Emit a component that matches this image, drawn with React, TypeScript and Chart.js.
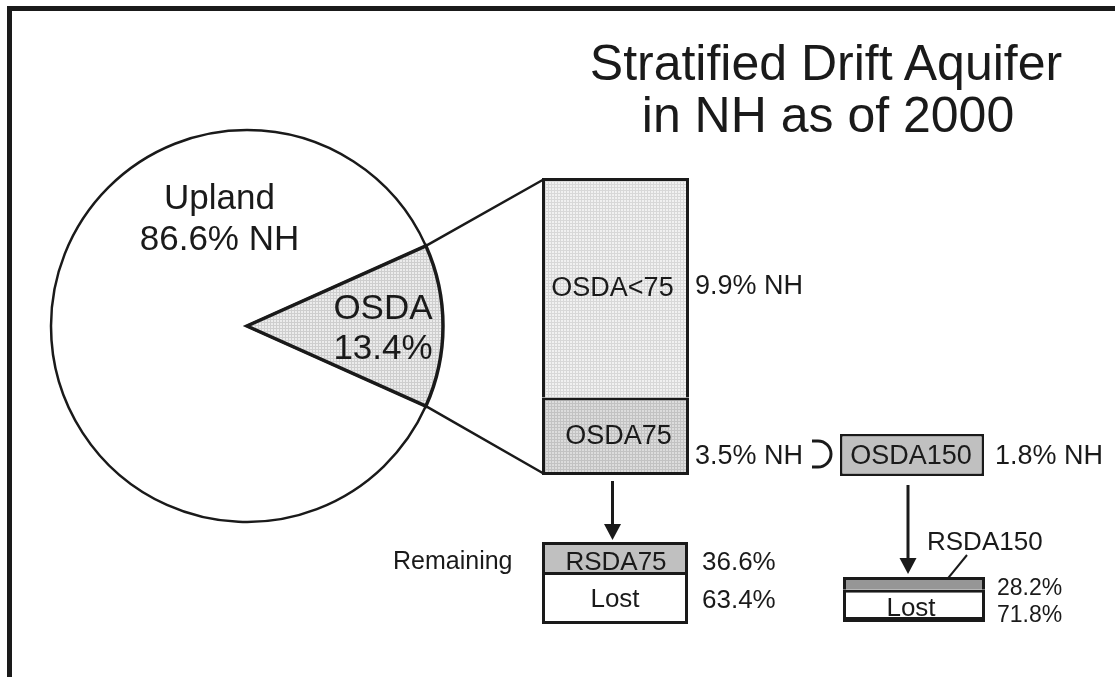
import React, { useEffect, useRef } from "react";
import { Chart, registerables } from "chart.js";

Chart.register(...registerables);

// ---------- data ----------
const pieLabels = ["Upland", "OSDA"];
const pieValues = [86.6, 13.4];

const osdaLabels = ["OSDA75", "OSDA<75"]; // bottom, top
const osdaValues = [3.5, 9.9];

const osda150Labels = ["OSDA150"];
const osda150Values = [1.8];

const rsda75Labels = ["Lost", "RSDA75"]; // bottom, top
const rsda75Values = [63.4, 36.6];

const rsda150Labels = ["Lost", "RSDA150"]; // bottom, top
const rsda150Values = [71.8, 28.2];

const titleLines = ["Stratified Drift Aquifer", "in NH as of 2000"];

// ---------- layout ----------
const FONT = '"Liberation Sans", Arial, Helvetica, sans-serif';
const INK = "#1a1a1a";
const PIE_BOX = { left: 27, top: 106, width: 440, height: 440 };
const PIE_RADIUS = 196;
const OSDA_BOX = { left: 542, top: 178, width: 147, height: 297 };
const OSDA150_BOX = { left: 840, top: 434, width: 144, height: 42 };
const RSDA75_BOX = { left: 542, top: 542, width: 146, height: 82 };
const RSDA150_BOX = { left: 843, top: 577, width: 142, height: 45 };

const sum = (a: number[]) => a.reduce((s, v) => s + v, 0);
const pct = (v: number) => `${v.toFixed(1)}%`;

function makePattern(base: string, line: string): CanvasPattern | string {
  const c = document.createElement("canvas");
  c.width = 3;
  c.height = 3;
  const g = c.getContext("2d");
  if (!g) return base;
  g.fillStyle = base;
  g.fillRect(0, 0, 3, 3);
  g.fillStyle = line;
  g.fillRect(0, 0, 3, 1);
  g.fillRect(0, 0, 1, 3);
  return g.createPattern(c, "repeat") || base;
}

function stackedBar(
  canvas: HTMLCanvasElement,
  labels: string[],
  values: number[],
  colors: any[],
  borders: any[]
) {
  return new Chart(canvas, {
    type: "bar",
    data: {
      labels: [""],
      datasets: values.map((v, i) => ({
        label: labels[i],
        data: [v],
        backgroundColor: colors[i],
        borderColor: INK,
        borderWidth: borders[i],
        borderSkipped: false,
        barPercentage: 1,
        categoryPercentage: 1,
        inflateAmount: 0,
      })),
    } as any,
    options: {
      responsive: false,
      animation: false,
      events: [],
      devicePixelRatio: 1,
      layout: { padding: 0 },
      plugins: { legend: { display: false }, tooltip: { enabled: false } },
      scales: {
        x: { display: false, stacked: true },
        y: { display: false, stacked: true, min: 0, max: sum(values) },
      },
    } as any,
  });
}

function Label(props: { text: string; x: number; y: number; size: number; center?: boolean }) {
  const { text, x, y, size, center } = props;
  const style: React.CSSProperties = {
    position: "absolute",
    top: y - 0.8465 * size,
    fontSize: size,
    lineHeight: `${size}px`,
    fontFamily: FONT,
    color: INK,
    whiteSpace: "nowrap",
  };
  if (center) {
    style.left = x - 300;
    style.width = 600;
    style.textAlign = "center";
  } else {
    style.left = x;
  }
  return <div style={style}>{text}</div>;
}

function boxStyle(b: { left: number; top: number; width: number; height: number }): React.CSSProperties {
  return { position: "absolute", left: b.left, top: b.top, width: b.width, height: b.height };
}

export default function App() {
  const pieRef = useRef<HTMLCanvasElement>(null);
  const osdaRef = useRef<HTMLCanvasElement>(null);
  const o150Ref = useRef<HTMLCanvasElement>(null);
  const r75Ref = useRef<HTMLCanvasElement>(null);
  const r150Ref = useRef<HTMLCanvasElement>(null);
  const overlayRef = useRef<HTMLCanvasElement>(null);

  useEffect(() => {
    const charts: Chart[] = [];
    const total = sum(pieValues);
    const before = pieValues[0];
    const rotation = 90 - ((before + pieValues[1] / 2) / total) * 360;

    const pie = new Chart(pieRef.current!, {
      type: "pie",
      data: {
        labels: pieLabels,
        datasets: [
          {
            data: pieValues,
            backgroundColor: ["#ffffff", makePattern("#ececec", "#cecece")],
            borderColor: INK,
            borderWidth: [2.5, 3.5],
            borderJoinStyle: ["bevel", "miter"],
          },
        ],
      } as any,
      options: {
        responsive: false,
        animation: false,
        events: [],
        devicePixelRatio: 1,
        rotation,
        radius: PIE_RADIUS,
        layout: { padding: 0 },
        plugins: { legend: { display: false }, tooltip: { enabled: false } },
      } as any,
    });
    charts.push(pie);

    const osda = stackedBar(
      osdaRef.current!,
      osdaLabels,
      osdaValues,
      [makePattern("#dcdcdc", "#c2c2c2"), makePattern("#f1f1f1", "#d8d8d8")],
      [
        { top: 3, left: 3, right: 3, bottom: 3 },
        { top: 3, left: 3, right: 3, bottom: 0 },
      ]
    );
    charts.push(osda);

    const o150 = stackedBar(o150Ref.current!, osda150Labels, osda150Values, ["#c0c0c0"], [2.5]);
    charts.push(o150);

    const r75 = stackedBar(
      r75Ref.current!,
      rsda75Labels,
      rsda75Values,
      ["#ffffff", "#c0c0c0"],
      [
        { top: 3, left: 3, right: 3, bottom: 3 },
        { top: 3, left: 3, right: 3, bottom: 0 },
      ]
    );
    charts.push(r75);

    const r150 = stackedBar(
      r150Ref.current!,
      rsda150Labels,
      rsda150Values,
      ["#ffffff", "#969696"],
      [
        { top: 3, left: 3, right: 3, bottom: 5 },
        { top: 3, left: 3, right: 3, bottom: 0 },
      ]
    );
    charts.push(r150);

    // overlay: connectors, arrows, bracket
    const ov = overlayRef.current!;
    const ctx = ov.getContext("2d")!;
    ctx.clearRect(0, 0, ov.width, ov.height);
    ctx.strokeStyle = INK;
    ctx.fillStyle = INK;
    ctx.lineCap = "butt";

    const arc: any = pie.getDatasetMeta(0).data[1];
    const ap = arc.getProps(["x", "y", "startAngle", "endAngle", "outerRadius"], true);
    const cx = PIE_BOX.left + ap.x;
    const cy = PIE_BOX.top + ap.y;
    const up = [cx + ap.outerRadius * Math.cos(ap.startAngle), cy + ap.outerRadius * Math.sin(ap.startAngle)];
    const lo = [cx + ap.outerRadius * Math.cos(ap.endAngle), cy + ap.outerRadius * Math.sin(ap.endAngle)];

    const topSeg: any = osda.getDatasetMeta(1).data[0];
    const botSeg: any = osda.getDatasetMeta(0).data[0];
    const tp = topSeg.getProps(["x", "y", "width", "base"], true);
    const bp = botSeg.getProps(["x", "y", "width", "base"], true);
    const barLeft = OSDA_BOX.left + tp.x - tp.width / 2;
    const barTop = OSDA_BOX.top + tp.y;
    const barBottom = OSDA_BOX.top + bp.base;
    const barCenter = OSDA_BOX.left + tp.x;

    ctx.lineWidth = 2.5;
    ctx.beginPath();
    ctx.moveTo(up[0], up[1]);
    ctx.lineTo(barLeft + 1.5, barTop + 1.5);
    ctx.moveTo(lo[0], lo[1]);
    ctx.lineTo(barLeft + 1.5, barBottom - 1.5);
    ctx.stroke();

    const arrow = (x: number, y1: number, y2: number) => {
      const headLen = 16;
      const half = 8.5;
      ctx.lineWidth = 3;
      ctx.beginPath();
      ctx.moveTo(x, y1);
      ctx.lineTo(x, y2 - headLen + 1);
      ctx.stroke();
      ctx.beginPath();
      ctx.moveTo(x - half, y2 - headLen);
      ctx.lineTo(x + half, y2 - headLen);
      ctx.lineTo(x, y2);
      ctx.closePath();
      ctx.fill();
    };

    // arrow OSDA75 -> RSDA75
    const r75Top: any = r75.getDatasetMeta(1).data[0];
    const r75p = r75Top.getProps(["x", "y"], true);
    arrow(barCenter - 3, barBottom + 6, RSDA75_BOX.top + r75p.y - 2);

    // arrow OSDA150 -> RSDA150
    const o150el: any = o150.getDatasetMeta(0).data[0];
    const o150p = o150el.getProps(["x", "y", "base"], true);
    const r150Top: any = r150.getDatasetMeta(1).data[0];
    const r150p = r150Top.getProps(["x", "y", "base"], true);
    arrow(OSDA150_BOX.left + o150p.x - 4, OSDA150_BOX.top + o150p.base + 9, RSDA150_BOX.top + r150p.y - 3);

    // RSDA150 leader line
    ctx.lineWidth = 2;
    ctx.beginPath();
    ctx.moveTo(967, 555);
    ctx.lineTo(943, RSDA150_BOX.top + (r150p.y + r150p.base) / 2 + 1);
    ctx.stroke();

    // bracket between 3.5% NH and OSDA150
    ctx.lineWidth = 3;
    ctx.beginPath();
    ctx.moveTo(812, 441);
    ctx.lineTo(818, 441);
    ctx.arc(818, 454, 13, -Math.PI / 2, Math.PI / 2);
    ctx.lineTo(812, 467);
    ctx.stroke();

    return () => {
      charts.forEach((c) => c.destroy());
    };
  }, []);

  return (
    <div
      style={{
        position: "fixed",
        left: 0,
        top: 0,
        width: 1115,
        height: 677,
        background: "#ffffff",
        overflow: "hidden",
      }}
    >
      {/* frame */}
      <div
        style={{
          position: "absolute",
          left: 7,
          top: 6,
          width: 1200,
          height: 800,
          borderLeft: `5px solid ${INK}`,
          borderTop: `5px solid ${INK}`,
        }}
      />
      <canvas ref={overlayRef} width={1115} height={677} style={{ position: "absolute", left: 0, top: 0 }} />
      <canvas ref={pieRef} width={PIE_BOX.width} height={PIE_BOX.height} style={boxStyle(PIE_BOX)} />
      <canvas ref={osdaRef} width={OSDA_BOX.width} height={OSDA_BOX.height} style={boxStyle(OSDA_BOX)} />
      <canvas ref={o150Ref} width={OSDA150_BOX.width} height={OSDA150_BOX.height} style={boxStyle(OSDA150_BOX)} />
      <canvas ref={r75Ref} width={RSDA75_BOX.width} height={RSDA75_BOX.height} style={boxStyle(RSDA75_BOX)} />
      <canvas ref={r150Ref} width={RSDA150_BOX.width} height={RSDA150_BOX.height} style={boxStyle(RSDA150_BOX)} />

      {/* title */}
      <Label text={titleLines[0]} x={826} y={80} size={50} center />
      <Label text={titleLines[1]} x={828} y={132} size={50} center />

      {/* pie labels */}
      <Label text={pieLabels[0]} x={219.5} y={209} size={35} center />
      <Label text={`${pct(pieValues[0])} NH`} x={219.5} y={250} size={35} center />
      <Label text={pieLabels[1]} x={383} y={319} size={35} center />
      <Label text={pct(pieValues[1])} x={383} y={359} size={35} center />

      {/* OSDA bar */}
      <Label text={osdaLabels[1]} x={612.5} y={297} size={27} center />
      <Label text={`${pct(osdaValues[1])} NH`} x={695} y={295} size={27} />
      <Label text={osdaLabels[0]} x={618.5} y={445} size={27} center />
      <Label text={`${pct(osdaValues[0])} NH`} x={695} y={465} size={27} />

      {/* OSDA150 */}
      <Label text={osda150Labels[0]} x={911} y={465} size={27} center />
      <Label text={`${pct(osda150Values[0])} NH`} x={995} y={465} size={27} />

      {/* RSDA75 */}
      <Label text="Remaining" x={393} y={569} size={25} />
      <Label text={rsda75Labels[1]} x={616} y={570} size={26} center />
      <Label text={rsda75Labels[0]} x={615} y={607} size={26} center />
      <Label text={pct(rsda75Values[1])} x={702} y={570} size={26} />
      <Label text={pct(rsda75Values[0])} x={702} y={608} size={26} />

      {/* RSDA150 */}
      <Label text={rsda150Labels[1]} x={927} y={550} size={26} />
      <Label text={rsda150Labels[0]} x={911} y={616} size={26} center />
      <Label text={pct(rsda150Values[1])} x={997} y={595} size={23} />
      <Label text={pct(rsda150Values[0])} x={997} y={622} size={23} />
    </div>
  );
}
